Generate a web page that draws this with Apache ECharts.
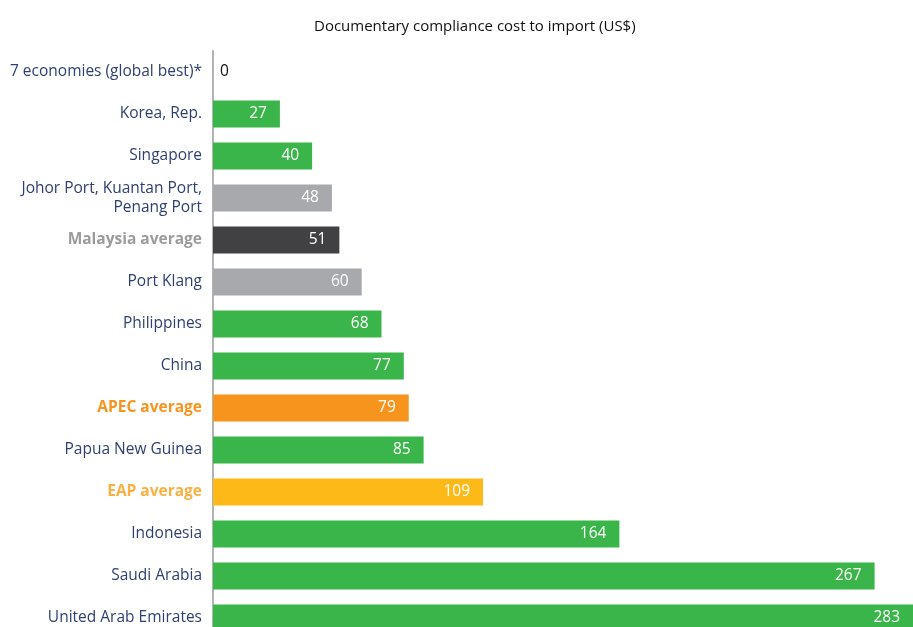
<!DOCTYPE html>
<html>
<head>
<meta charset="utf-8">
<script src="https://cdn.jsdelivr.net/npm/echarts@6/dist/echarts.min.js"></script>
<style>
  html, body { margin: 0; padding: 0; background: #fff; }
  #chart { width: 913px; height: 627px; }
</style>
</head>
<body>
<div id="chart"></div>
<script>
// Documentary compliance cost to import (US$), top to bottom
const categories = [
  '7 economies (global best)*',
  'Korea, Rep.',
  'Singapore',
  'Johor Port, Kuantan Port,\nPenang Port',
  'Malaysia average',
  'Port Klang',
  'Philippines',
  'China',
  'APEC average',
  'Papua New Guinea',
  'EAP average',
  'Indonesia',
  'Saudi Arabia',
  'United Arab Emirates'
];
const costs = [0, 27, 40, 48, 51, 60, 68, 77, 79, 85, 109, 164, 267, 283];
// bar group per row
const groups = ['economy', 'economy', 'economy', 'port', 'malaysia', 'port', 'economy',
  'economy', 'apec', 'economy', 'eap', 'economy', 'economy', 'economy'];

const barColors = {
  economy: '#3ab54a', port: '#a7a9ac', malaysia: '#414042', apec: '#f7941d', eap: '#fcb918'
};
const labelStyles = {
  economy: { color: '#2e3f72', fontWeight: 'normal' },
  port: { color: '#2e3f72', fontWeight: 'normal' },
  malaysia: { color: '#9b9b9b', fontWeight: 'bold' },
  apec: { color: '#f7941d', fontWeight: 'bold' },
  eap: { color: '#fbb040', fontWeight: 'bold' }
};

const FONT = '"Open Sans", "Noto Sans", sans-serif';
const rich = {};
Object.keys(labelStyles).forEach(k => {
  rich[k] = Object.assign({ fontSize: 15.5, fontFamily: FONT, lineHeight: 19, align: 'right' }, labelStyles[k]);
});

const chart = echarts.init(document.getElementById('chart'), null, { renderer: 'canvas' });
chart.setOption({
  animation: false,
  title: {
    text: 'Documentary compliance cost to import (US$)',
    left: 309, top: 14,
    textStyle: { fontFamily: FONT, fontSize: 15, fontWeight: 'normal', color: '#111' }
  },
  grid: { left: 213, right: 0, top: 51, height: 588, containLabel: false, outerBoundsMode: 'none' },
  xAxis: {
    type: 'value', min: 0, max: 282.5,
    show: false
  },
  yAxis: {
    type: 'category', inverse: true, data: categories,
    axisLine: { show: true, lineStyle: { color: '#b3b3b3', width: 2 } },
    axisTick: { show: false },
    axisLabel: {
      margin: 11,
      formatter: (v, i) => v.split('\n').map(s => '{' + groups[i] + '|' + s + '}').join('\n'),
      rich: rich
    }
  },
  series: [{
    type: 'bar',
    barWidth: 27,
    data: costs.map((v, i) => ({
      value: v,
      itemStyle: { color: barColors[groups[i]] },
      label: v === 0
        ? { position: 'right', distance: 7, color: '#111' }
        : { position: 'insideRight', distance: 13, color: '#fff' }
    })),
    label: {
      show: true, fontFamily: FONT, fontSize: 15.5
    }
  }]
});
</script>
</body>
</html>
